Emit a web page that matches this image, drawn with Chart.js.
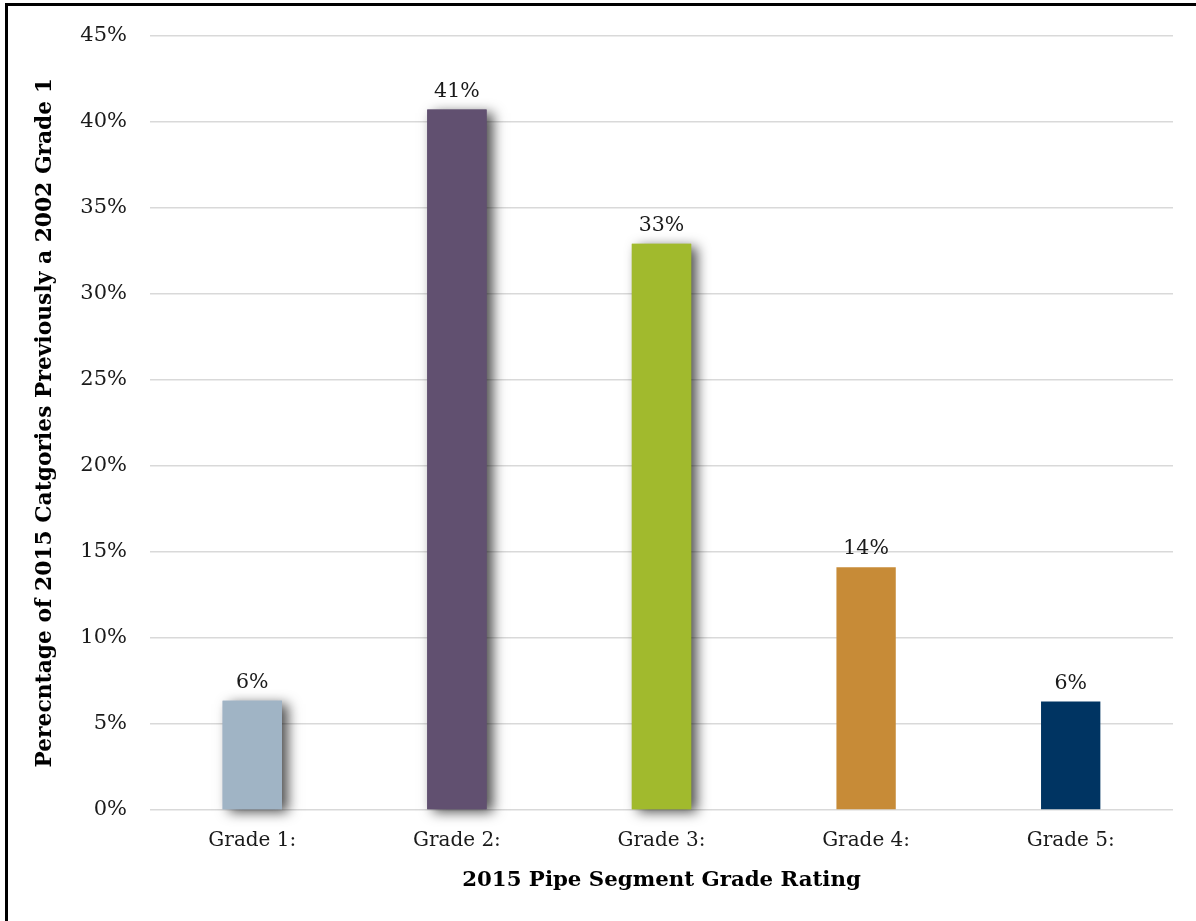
<!DOCTYPE html>
<html>
<head>
<meta charset="utf-8">
<script src="https://cdn.jsdelivr.net/npm/chart.js@4/dist/chart.umd.min.js"></script>
<style>
  html, body { margin: 0; padding: 0; background: #fff; overflow: hidden; }
  #frame { position: absolute; left: 5px; top: 3px; width: 1400px; height: 1100px;
           border-left: 3px solid #000; border-top: 3px solid #000; }
  #wrap { position: absolute; left: 0; top: 0; width: 1196px; height: 921px; }
</style>
</head>
<body>
<div id="frame"></div>
<div id="wrap"><canvas id="chart-grades"></canvas></div>
<script>
// values
var grades = ["Grade 1:", "Grade 2:", "Grade 3:", "Grade 4:", "Grade 5:"];
var percents = [6.35, 40.7, 32.9, 14.1, 6.3];
var labelsShown = ["6%", "41%", "33%", "14%", "6%"];
var barColors = ["#A0B4C5", "#615070", "#A1BA2D", "#C78B37", "#003462"];
var hasShadow = [true, true, true, false, false];

var serif = "'DejaVu Serif', 'Liberation Serif', serif";

// soft drop shadow behind some bars, like the office chart
var shadowPlugin = {
    id: 'barShadow',
    beforeDatasetsDraw: function(chart) {
        var ctx = chart.ctx;
        var meta = chart.getDatasetMeta(0);
        meta.data.forEach(function(bar, i) {
            if (!hasShadow[i]) return;
            var p = bar.getProps(['x', 'y', 'base', 'width'], true);
            ctx.save();
            ctx.shadowColor = 'rgba(0,0,0,0.7)';
            ctx.shadowBlur = 12;
            ctx.shadowOffsetX = 6;
            ctx.shadowOffsetY = 3;
            ctx.fillStyle = barColors[i];
            ctx.fillRect(p.x - p.width / 2, p.y, p.width, p.base - p.y);
            ctx.restore();
        });
    }
};

var valueLabels = {
    id: 'valueLabels',
    afterDatasetsDraw: function(chart) {
        var ctx = chart.ctx;
        var meta = chart.getDatasetMeta(0);
        ctx.save();
        ctx.font = "20.5px " + serif;
        ctx.fillStyle = '#1a1a1a';
        ctx.textAlign = 'center';
        ctx.textBaseline = 'bottom';
        meta.data.forEach(function(bar, i) {
            ctx.fillText(labelsShown[i], bar.x, bar.y - 8);
        });
        ctx.restore();
    }
};

var config = {
    type: 'bar',
    data: {
        labels: grades,
        datasets: [{
            data: percents,
            backgroundColor: barColors,
            borderWidth: 0,
            barPercentage: 1,
            categoryPercentage: 0.29
        }]
    },
    options: {
        responsive: false,
        animation: false,
        layout: { padding: { top: 34, right: 23, bottom: 0, left: 0 } },
        plugins: {
            legend: { display: false },
            tooltip: { enabled: false }
        },
        scales: {
            x: {
                grid: { display: false, drawTicks: false },
                border: { display: false },
                ticks: { padding: 19, color: '#1a1a1a', font: { family: serif, size: 20 } },
                title: {
                    display: true,
                    text: '2015 Pipe Segment Grade Rating',
                    color: '#000',
                    font: { family: serif, size: 21.3, weight: 'bold' },
                    padding: { top: 0, bottom: 28 }
                },
                afterFit: function(scale) { scale.height = 111; }
            },
            y: {
                min: 0,
                max: 45,
                grid: { color: '#d9d9d9', lineWidth: 1.6, drawTicks: false },
                border: { display: false },
                ticks: {
                    stepSize: 5,
                    padding: 23,
                    color: '#1a1a1a',
                    font: { family: serif, size: 21 },
                    callback: function(v) { return v + '%'; }
                },
                title: {
                    display: true,
                    text: 'Perecntage of 2015 Catgories Previously a 2002 Grade 1',
                    color: '#000',
                    font: { family: serif, size: 21.8, weight: 'bold' },
                    padding: { top: 32, bottom: 0 }
                },
                afterFit: function(scale) { scale.width = 150; }
            }
        }
    },
    plugins: [shadowPlugin, valueLabels]
};

var canvas = document.getElementById('chart-grades');
canvas.width = 1196;
canvas.height = 921;
new Chart(canvas.getContext('2d'), config);
</script>
</body>
</html>
